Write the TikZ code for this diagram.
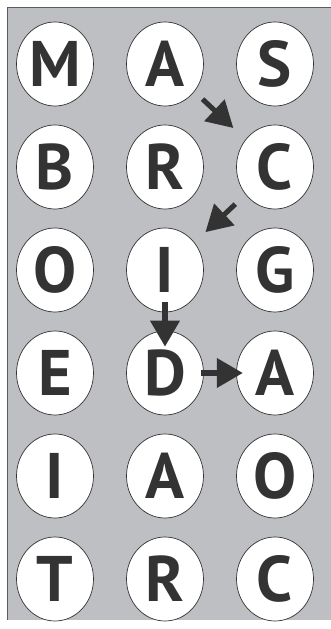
\documentclass[tikz,border=0pt]{standalone}
\usepackage{fontspec}
\setsansfont{PT Sans}
\usepackage{tikz}
\usetikzlibrary{
  arrows.meta, positioning, shapes.geometric
}
\definecolor{panel}{RGB}{190,191,195}
\definecolor{ink}{HTML}{333333}

\begin{document}
\begin{tikzpicture}[
  letter/.style={ellipse, draw=ink, line width=0.6pt, fill=white,
    minimum width=2.31cm, minimum height=2.52cm, inner sep=0pt,
    text=ink, font=\sffamily\bfseries\fontsize{55}{55}\selectfont},
  wordarrow/.style={-{Triangle[length=7.8mm,width=8.6mm]}, ink, line width=4.3pt}
]
  \useasboundingbox (0,0) rectangle (9.93,18.87);
  \fill[panel] (0.21,0.27) rectangle (9.93,18.66);
  \draw[ink!80, line width=0.8pt] (0.21,0.27) -- (0.21,18.66) -- (9.93,18.66);
  % Letter grid
  \foreach \ltr [count=\k from 0] in {M,A,S,B,R,C,O,I,G,E,D,A,I,A,O,T,R,C} {
    \pgfmathtruncatemacro\r{div(\k,3)}
    \pgfmathtruncatemacro\c{mod(\k,3)}
    \node[letter] (n\r\c) at ({1.65+3.3*\c},{16.95-3.09*\r}) {\ltr};
  }
  % Word path
  \draw[wordarrow, shorten >=0.5cm, shorten <=0.33cm] (n01) -- (n12);
  \draw[wordarrow, shorten >=0.45cm, shorten <=0.42cm] (n12) -- (n21);
  \draw[wordarrow, shorten >=-0.48cm, shorten <=-0.3cm] (n21) -- (n31);
  \draw[wordarrow, shorten >=-0.2cm, shorten <=-0.08cm] (n31) -- (n32);
\end{tikzpicture}
\end{document}
